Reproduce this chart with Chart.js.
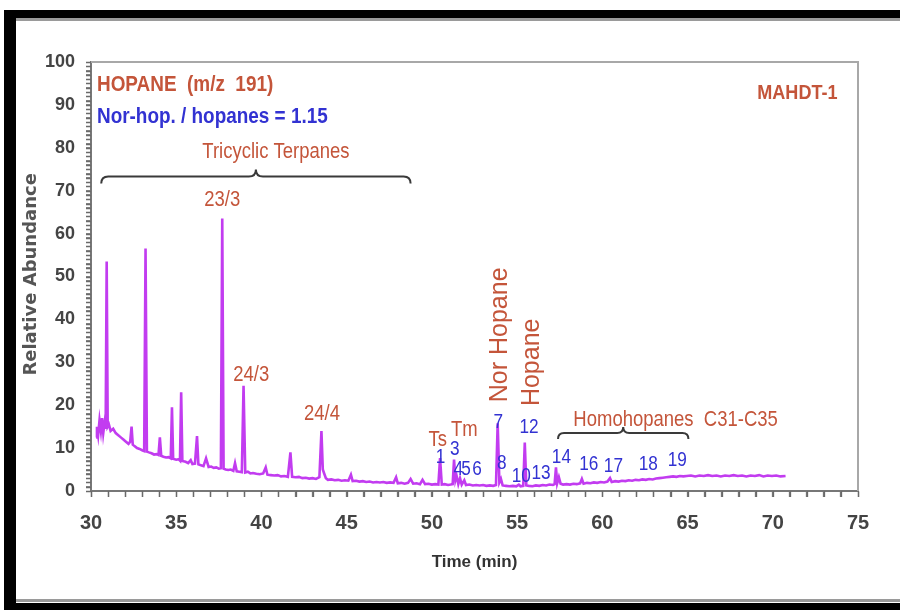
<!DOCTYPE html>
<html>
<head>
<meta charset="utf-8">
<script src="https://cdn.jsdelivr.net/npm/chart.js@4.4.0/dist/chart.umd.min.js"></script>
<style>
  html, body { margin: 0; padding: 0; background: #fff; }
  canvas { display: block; }
</style>
</head>
<body>
<canvas id="trace" width="900" height="610"></canvas>
<script>
// m/z 191 trace: retention time (min) and relative abundance
const timeMin = [
  30.30, 30.35, 30.42, 30.50, 30.58, 30.65, 30.72, 30.80, 30.86, 30.92, 30.98, 31.05, 31.15, 31.30, 31.45,
  31.60, 31.75, 31.90, 32.05, 32.20, 32.30, 32.38, 32.45, 32.55, 32.70, 32.85, 33.00, 33.12, 33.20, 33.28,
  33.40, 33.55, 33.70, 33.85, 33.96, 34.04, 34.12, 34.25, 34.40, 34.55, 34.68, 34.75, 34.82, 35.00, 35.15,
  35.22, 35.29, 35.36, 35.55, 35.70, 35.85, 35.95, 36.10, 36.22, 36.30, 36.45, 36.60, 36.75, 36.90, 37.05,
  37.20, 37.35, 37.50, 37.62, 37.70, 37.78, 37.90, 38.05, 38.20, 38.35, 38.45, 38.55, 38.70, 38.85, 38.95,
  39.05, 39.20, 39.35, 39.50, 39.70, 39.90, 40.10, 40.25, 40.35, 40.55, 40.75, 40.95, 41.15, 41.35, 41.55,
  41.70, 41.80, 42.00, 42.20, 42.40, 42.60, 42.80, 43.00, 43.20, 43.40, 43.52, 43.60, 43.67, 43.78, 43.90,
  44.10, 44.30, 44.50, 44.70, 44.90, 45.10, 45.25, 45.35, 45.55, 45.75, 45.95, 46.15, 46.35, 46.55, 46.75,
  46.95, 47.15, 47.35, 47.55, 47.75, 47.90, 48.00, 48.20, 48.40, 48.60, 48.75, 48.90, 49.10, 49.30, 49.45,
  49.60, 49.80, 50.00, 50.20, 50.38, 50.48, 50.58, 50.75, 50.95, 51.10, 51.22, 51.30, 51.38, 51.45, 51.55,
  51.65, 51.75, 51.90, 52.00, 52.20, 52.40, 52.60, 52.80, 53.00, 53.20, 53.40, 53.60, 53.76, 53.86, 53.96,
  54.05, 54.15, 54.35, 54.55, 54.75, 54.95, 55.10, 55.20, 55.36, 55.45, 55.54, 55.70, 55.90, 56.10, 56.30,
  56.50, 56.70, 56.90, 57.10, 57.20, 57.28, 57.35, 57.45, 57.55, 57.70, 57.90, 58.10, 58.30, 58.50, 58.70,
  58.80, 58.90, 59.10, 59.30, 59.50, 59.70, 59.90, 60.10, 60.30, 60.45, 60.55, 60.75, 60.95, 61.15, 61.35,
  61.55, 61.75, 61.95, 62.15, 62.35, 62.55, 62.75, 62.95, 63.15, 63.35, 63.55, 63.75, 63.95, 64.15, 64.35,
  64.55, 64.75, 64.95, 65.20, 65.45, 65.70, 65.95, 66.20, 66.45, 66.70, 66.95, 67.20, 67.45, 67.70, 67.95,
  68.20, 68.45, 68.70, 68.95, 69.20, 69.45, 69.70, 69.95, 70.20, 70.45, 70.75
];
const abundance = [
  12.5, 15.0, 13.0, 16.5, 14.0, 17.0, 13.5, 16.0, 14.5, 53.5, 15.0, 15.5, 14.0, 14.5, 13.5,
  13.0, 12.5, 12.0, 11.5, 11.0, 11.5, 15.0, 10.8, 10.5, 10.0, 9.8, 9.5, 9.3, 56.5, 9.2,
  9.0, 8.8, 8.5, 8.6, 8.4, 12.5, 8.2, 8.0, 7.8, 7.9, 7.6, 19.5, 7.5, 7.3, 7.4,
  7.1, 23.0, 7.0, 6.8, 6.5, 7.2, 6.3, 6.4, 12.8, 6.2, 6.0, 5.8, 7.6, 5.6, 5.7,
  5.4, 5.5, 5.2, 5.3, 63.5, 5.2, 5.0, 4.9, 5.0, 4.7, 6.5, 4.6, 4.5, 4.4, 24.5,
  4.3, 4.5, 4.1, 4.2, 4.0, 3.9, 4.1, 5.5, 3.8, 3.7, 3.6, 3.7, 3.4, 3.5, 3.3,
  9.0, 3.3, 3.2, 3.3, 3.0, 3.1, 2.9, 3.0, 2.8, 3.2, 14.0, 5.0, 4.2, 3.0, 2.6,
  2.7, 2.5, 2.6, 2.4, 2.5, 2.4, 3.8, 2.3, 2.4, 2.2, 2.3, 2.1, 2.2, 2.0, 2.1,
  2.0, 2.1, 1.9, 2.0, 1.9, 3.2, 1.8, 1.9, 1.7, 1.9, 2.8, 1.7, 1.8, 1.6, 2.6,
  1.6, 1.7, 1.5, 1.6, 1.5, 7.7, 1.5, 1.6, 1.4, 1.5, 1.6, 7.3, 2.5, 3.5, 1.6,
  3.0, 1.5, 2.5, 1.4, 1.5, 1.3, 1.4, 1.3, 1.4, 1.2, 1.3, 1.2, 1.4, 15.8, 2.0,
  2.8, 1.3, 1.2, 1.1, 1.2, 1.1, 1.5, 1.1, 1.2, 11.3, 1.3, 1.2, 1.1, 1.3, 1.2,
  1.4, 1.3, 1.5, 1.4, 1.6, 5.5, 1.8, 3.2, 1.7, 1.5, 1.6, 1.5, 1.7, 1.6, 1.8,
  2.8, 1.7, 1.9, 1.8, 2.0, 1.9, 2.1, 2.0, 2.2, 3.0, 2.1, 2.3, 2.2, 2.4, 2.3,
  2.5, 2.4, 2.6, 2.5, 2.7, 2.6, 2.8, 2.7, 2.9, 3.0, 3.1, 3.2, 3.3, 3.4, 3.3,
  3.5, 3.4, 3.5, 3.6, 3.4, 3.6, 3.5, 3.7, 3.5, 3.6, 3.4, 3.6, 3.5, 3.7, 3.5,
  3.6, 3.4, 3.6, 3.5, 3.7, 3.4, 3.6, 3.5, 3.6, 3.4, 3.5
];

// peak names written above the trace (time, abundance of the text centre)
const peakNames = ['23/3', '24/3', '24/4', 'Ts', 'Tm'];
const peakNameTime = [37.7, 39.4, 43.55, 50.35, 51.9];
const peakNameLevel = [67.8, 27.0, 18.0, 11.9, 14.2];

// numbered hopane peaks
const peakNumbers = ['1', '3', '4', '5', '6', '7', '8', '10', '12', '13', '14', '16', '17', '18', '19'];
const peakNumberTime = [50.5, 51.35, 51.55, 52.0, 52.65, 53.9, 54.1, 55.25, 55.7, 56.4, 57.6, 59.2, 60.65, 62.7, 64.4];
const peakNumberLevel = [7.7, 9.6, 4.9, 4.9, 5.1, 15.9, 6.5, 3.3, 14.9, 4.0, 7.7, 6.1, 5.6, 6.1, 7.0];

const xTickStep = 5;
const yTickStep = 10;

const BROWN = '#c4553a';
const BLUE = '#3232d2';
const SANS = '"Liberation Sans", Arial, sans-serif';

function text(ctx, str, x, y, opt) {
  ctx.save();
  ctx.translate(x, y);
  if (opt.rotate) ctx.rotate(opt.rotate);
  ctx.scale(opt.squeeze || 1, 1);
  ctx.font = opt.font;
  ctx.fillStyle = opt.color;
  ctx.textAlign = opt.align || 'center';
  ctx.textBaseline = 'middle';
  ctx.fillText(str, 0, 0);
  ctx.restore();
}

function brace(ctx, x1, x2, y, h) {
  const mid = (x1 + x2) / 2;
  ctx.save();
  ctx.strokeStyle = '#3a3a3a';
  ctx.lineWidth = 2;
  ctx.beginPath();
  ctx.moveTo(x1, y + h);
  ctx.quadraticCurveTo(x1, y, x1 + h, y);
  ctx.lineTo(mid - h, y);
  ctx.quadraticCurveTo(mid, y, mid, y - h);
  ctx.quadraticCurveTo(mid, y, mid + h, y);
  ctx.lineTo(x2 - h, y);
  ctx.quadraticCurveTo(x2, y, x2, y + h);
  ctx.stroke();
  ctx.restore();
}

const decorations = {
  id: 'decorations',
  beforeDraw(chart) {
    const ctx = chart.ctx;
    ctx.save();
    ctx.fillStyle = '#fff';
    ctx.fillRect(0, 0, chart.width, chart.height);
    // page frame
    ctx.fillStyle = '#000';
    ctx.fillRect(4, 10, 12, 600);
    ctx.fillRect(4, 10, 896, 8);
    ctx.fillRect(4, 603, 896, 7);
    ctx.fillStyle = '#9a9a9a';
    ctx.fillRect(16, 18, 884, 3);
    ctx.fillRect(16, 599, 884, 3);
    ctx.restore();
  },
  afterDraw(chart) {
    const ctx = chart.ctx;
    const a = chart.chartArea;
    const sx = chart.scales.x;
    const sy = chart.scales.y;
    const px = (v) => sx.getPixelForValue(v);
    const py = (v) => sy.getPixelForValue(v);

    // top and right edges of the plot box
    ctx.save();
    ctx.strokeStyle = '#a8a8a8';
    ctx.lineWidth = 2;
    ctx.beginPath();
    ctx.moveTo(a.left, a.top);
    ctx.lineTo(a.right, a.top);
    ctx.lineTo(a.right, a.bottom);
    ctx.stroke();

    // tick comb on both axes, one mark per unit
    ctx.strokeStyle = '#6a6a6a';
    ctx.lineWidth = 1.3;
    ctx.beginPath();
    sx.ticks.forEach((t) => {
      const x = Math.round(px(t.value)) + 0.5;
      ctx.moveTo(x, a.bottom);
      ctx.lineTo(x, a.bottom + 6);
    });
    sy.ticks.forEach((t) => {
      const y = Math.round(py(t.value)) + 0.5;
      ctx.moveTo(a.left, y);
      ctx.lineTo(a.left - 5, y);
    });
    ctx.stroke();
    ctx.restore();

    // axis titles
    text(ctx, 'Relative Abundance', 31, py(50.5), { font: 'bold 18px "DejaVu Sans", sans-serif', color: '#555', rotate: -Math.PI / 2 });
    text(ctx, 'Time (min)', px(52.5), 562, { font: 'bold 17px ' + SANS, color: '#333' });

    // headings
    text(ctx, 'HOPANE  (m/z  191)', px(30.35), py(94.6), { font: 'bold 22px ' + SANS, color: BROWN, align: 'left', squeeze: 0.86 });
    text(ctx, 'Nor-hop. / hopanes = 1.15', px(30.35), py(87.2), { font: 'bold 22px ' + SANS, color: BLUE, align: 'left', squeeze: 0.86 });
    text(ctx, 'MAHDT-1', px(73.8), py(92.8), { font: 'bold 21px ' + SANS, color: BROWN, align: 'right', squeeze: 0.86 });

    // compound groups
    text(ctx, 'Tricyclic Terpanes', px(40.85), py(79), { font: '22px ' + SANS, color: BROWN, squeeze: 0.84 });
    brace(ctx, px(30.6), px(48.75), py(73.3), 7);
    text(ctx, 'Homohopanes  C31-C35', px(58.3), py(16.5), { font: '22px ' + SANS, color: BROWN, align: 'left', squeeze: 0.84 });
    brace(ctx, px(57.4), px(65.05), py(13.5), 6);

    text(ctx, 'Nor Hopane', px(54.0), py(36.4), { font: '25px ' + SANS, color: BROWN, rotate: -Math.PI / 2 });
    text(ctx, 'Hopane', px(55.9), py(30), { font: '25px ' + SANS, color: BROWN, rotate: -Math.PI / 2 });

    peakNames.forEach((name, i) => {
      text(ctx, name, px(peakNameTime[i]), py(peakNameLevel[i]), { font: '22px ' + SANS, color: BROWN, squeeze: 0.84 });
    });
    peakNumbers.forEach((num, i) => {
      text(ctx, num, px(peakNumberTime[i]), py(peakNumberLevel[i]), { font: '20px ' + SANS, color: BLUE, squeeze: 0.86 });
    });
  }
};

const points = timeMin.map((t, i) => ({ x: t, y: abundance[i] }));

new Chart(document.getElementById('trace'), {
  type: 'line',
  data: {
    datasets: [{
      data: points,
      borderColor: '#c23cf0',
      borderWidth: 2.6,
      pointRadius: 0,
      tension: 0,
      fill: false
    }]
  },
  options: {
    responsive: false,
    animation: false,
    devicePixelRatio: 1,
    layout: { padding: { left: 0, top: 62, right: 42, bottom: 0 } },
    plugins: { legend: { display: false }, tooltip: { enabled: false } },
    scales: {
      x: {
        type: 'linear',
        min: 30,
        max: 75,
        afterFit(scale) { scale.height = 119; },
        ticks: {
          stepSize: 1,
          maxTicksLimit: 200,
          autoSkip: false,
          maxRotation: 0,
          padding: 14,
          color: '#444',
          font: { family: SANS, size: 20, weight: 'bold' },
          callback: (v) => (v % xTickStep === 0 ? v : '')
        },
        grid: { drawOnChartArea: false, tickLength: 6, color: '#777', tickWidth: 1.3 },
        border: { color: '#777', width: 2 }
      },
      y: {
        min: 0,
        max: 100,
        afterFit(scale) { scale.width = 91; },
        ticks: {
          stepSize: 1,
          maxTicksLimit: 200,
          autoSkip: false,
          padding: 11,
          color: '#444',
          font: { family: SANS, size: 18, weight: 'bold' },
          callback: (v) => (v % yTickStep === 0 ? v : '')
        },
        grid: { drawOnChartArea: false, tickLength: 5, color: '#888', tickWidth: 1 },
        border: { color: '#777', width: 2 }
      }
    }
  },
  plugins: [decorations]
});
</script>
</body>
</html>
